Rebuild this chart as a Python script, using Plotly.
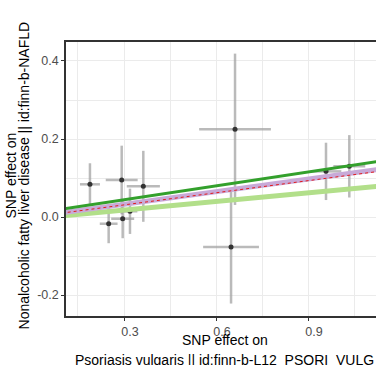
import plotly.graph_objects as go

# SNP effects
snp_bx = [0.189, 0.2925, 0.363, 0.250, 0.2957, 0.3195, 0.662, 0.649, 0.9586, 1.0346]
snp_by = [0.0838, 0.0949, 0.0787, -0.0172, -0.0044, 0.0146, 0.2249, -0.0769, 0.117, 0.130]
snp_bx_se = [0.0326, 0.052, 0.054, 0.029, 0.0375, 0.024, 0.117, 0.091, 0.05, 0.052]
snp_by_se = [0.054, 0.088, 0.091, 0.050, 0.050, 0.058, 0.194, 0.145, 0.0735, 0.080]

# MR method fit lines (intercept, slope)
methods = ["MR Egger", "Inverse variance weighted", "Weighted median", "Simple mode", "Weighted mode"]
intercepts = [-0.0043, 0.0, 0.0, 0.0, 0.0086]
slopes = [0.0736, 0.107, 0.108, 0.1035, 0.1187]
colors = ["#b2df8a", "#1f78b4", "#c8aad8", "#e31a1c", "#33a02c"]
widths = [5, 0.8, 5, 1, 3]
dashes = ["solid", "solid", "solid", "dot", "solid"]

x_ticks = [0.3, 0.6, 0.9]
y_ticks = [-0.2, 0.0, 0.2, 0.4]
x_range = [0.1109, 1.1216]
y_range = [-0.2538, 0.4487]

fig = go.Figure()
fig.add_trace(go.Scatter(
    x=snp_bx, y=snp_by, mode="markers",
    marker=dict(color="#333333", size=5),
    error_x=dict(type="data", array=snp_bx_se, color="rgba(160,160,160,0.72)", thickness=2.5, width=0),
    error_y=dict(type="data", array=snp_by_se, color="rgba(160,160,160,0.72)", thickness=2.5, width=0),
    showlegend=False, hoverinfo="skip"))

line_x = [0.0, 1.3]
for name, a, b, c, w, d in zip(methods, intercepts, slopes, colors, widths, dashes):
    fig.add_trace(go.Scatter(
        x=line_x, y=[a + b * xx for xx in line_x], mode="lines", name=name,
        line=dict(color=c, width=w, dash=d), showlegend=False))

font_family = "Liberation Sans, Arial, sans-serif"
fig.update_layout(
    width=376, height=365,
    margin=dict(l=66, r=0, t=42, b=49),
    paper_bgcolor="white", plot_bgcolor="white",
    font=dict(family=font_family),
    xaxis=dict(range=x_range, tickvals=x_ticks, ticktext=[f"{v:.1f}" for v in x_ticks],
               showgrid=True, gridcolor="#ebebeb", gridwidth=1.3,
               minor=dict(dtick=0.15, tick0=0, showgrid=True, gridcolor="#ebebeb", gridwidth=0.7),
               showline=True, linecolor="#333333", linewidth=1.5, mirror=True,
               ticks="outside", ticklen=3, tickcolor="#333333", tickwidth=1,
               tickfont=dict(size=12.5, color="#4d4d4d"), ticklabelshift=6,
               zeroline=False),
    yaxis=dict(range=y_range, tickvals=y_ticks, ticktext=[f"{v:.1f}" for v in y_ticks],
               showgrid=True, gridcolor="#ebebeb", gridwidth=1.3,
               minor=dict(dtick=0.1, tick0=0, showgrid=True, gridcolor="#ebebeb", gridwidth=0.7),
               showline=True, linecolor="#333333", linewidth=1.5, mirror=False,
               ticks="outside", ticklen=3, tickcolor="#333333", tickwidth=1,
               tickfont=dict(size=12.5, color="#4d4d4d"),
               zeroline=False),
)

title_font = dict(family=font_family, size=14, color="black")
fig.add_annotation(text="SNP effect on", xref="paper", yref="paper", x=0.5129, y=-0.088,
                   xanchor="center", yanchor="middle", showarrow=False, font=title_font)
fig.add_annotation(text="Psoriasis vulgaris || id:finn-b-L12_PSORI_VULG", xref="paper", yref="paper",
                   x=0.5129, y=-0.162, xanchor="center", yanchor="middle", showarrow=False, font=title_font)
fig.add_annotation(text="SNP effect on", xref="paper", yref="paper", x=-0.1774, y=0.5128,
                   xanchor="center", yanchor="middle", textangle=-90, showarrow=False, font=title_font)
fig.add_annotation(text="Nonalcoholic fatty liver disease || id:finn-b-NAFLD", xref="paper", yref="paper",
                   x=-0.1323, y=0.5128, xanchor="center", yanchor="middle", textangle=-90,
                   showarrow=False, font=title_font)

fig.write_html("out.html", config={"displayModeBar": False},
               post_script="document.body.style.margin='0';document.body.style.overflow='hidden';")
